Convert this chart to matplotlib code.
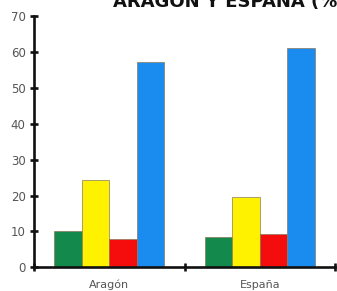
import numpy as np
import matplotlib
matplotlib.use('Agg')
import matplotlib.pyplot as plt

# data
regions = ['Aragón', 'España']
green = [10.0, 8.5]
yellow = [24.4, 19.6]
red = [8.0, 9.4]
blue = [57.0, 61.0]
yticks = [0, 10, 20, 30, 40, 50, 60, 70]

fig = plt.figure(figsize=(3.37, 2.91), dpi=100)
ax = fig.add_axes([0.101, 0.081, 0.893, 0.865])

w = 0.183
centers = np.array([0.5, 1.5])
series = [green, yellow, red, blue]
colors = ['#138a4c', '#fff200', '#f50d0d', '#1a8cf0']
for i, (vals, c) in enumerate(zip(series, colors)):
    ax.bar(centers + (i - 1.5) * w, vals, width=w, color=c,
           edgecolor='#8a7a5a', linewidth=0.5, zorder=2)

ax.set_xlim(0, 2)
ax.set_ylim(0, 70)
ax.set_yticks(yticks)
ax.set_xticks([0, 1, 2])
ax.set_xticklabels([])
ax.set_xticks(centers, minor=True)
ax.set_xticklabels(regions, minor=True)

for s in ['top', 'right']:
    ax.spines[s].set_visible(False)
for s in ['left', 'bottom']:
    ax.spines[s].set_linewidth(1.9)
    ax.spines[s].set_color('#111111')

ax.tick_params(axis='both', which='major', direction='inout', length=6,
               width=1.9, color='#111111')
ax.tick_params(axis='y', labelsize=8.5, labelcolor='#555555', pad=3)
ax.tick_params(axis='x', which='minor', length=0, pad=9,
               labelsize=8, labelcolor='#555555')

fig.text(0.335, 0.977, 'ARAGÓN Y ESPAÑA (%)', fontsize=13, fontweight='bold',
         ha='left', va='baseline', color='#111111')

fig.savefig('out.png', dpi=100)
